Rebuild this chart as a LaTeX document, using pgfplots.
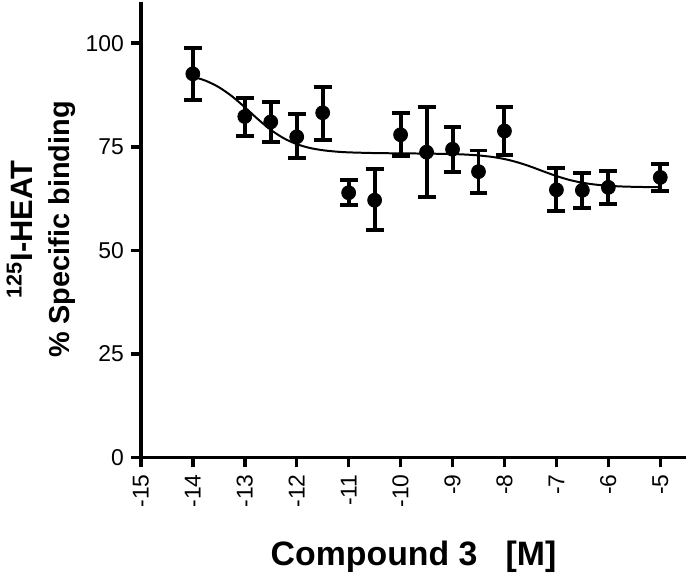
\documentclass[border=0pt]{standalone}
\usepackage{fontspec}
\setmainfont{Liberation Sans}
\usepackage{pgfplots}
\usepackage{pgfplotstable}
\pgfplotsset{compat=1.18}

\pgfplotstableread{
x      y     ep    em
-14    92.6  6.3   6.2
-13    82.3  4.4   4.6
-12.5  81.0  4.8   4.8
-12    77.4  5.4   5.0
-11.5  83.2  6.2   6.5
-11    63.9  3.1   3.0
-10.5  62.1  7.5   7.3
-10    77.9  5.3   5.1
-9.5   73.7  10.9  10.8
-9     74.4  5.4   5.4
-8.5   69.0  5.1   5.2
-8     78.8  5.9   5.7
-7     64.6  5.2   5.1
-6.5   64.5  4.2   4.3
-6     65.2  3.9   4.1
-5     67.6  3.2   3.2
}\binding

\pgfplotstableread{
x       y
-14     91.93
-13.75  90.92
-13.5   89.38
-13.25  87.22
-13     84.55
-12.75  81.69
-12.5   79.09
-12.25  77.06
-12     75.64
-11.75  74.72
-11.5   74.17
-11.25  73.84
-11     73.65
-10.5   73.48
-10     73.41
-9.5    73.35
-9      73.24
-8.75   73.12
-8.5    72.91
-8.25   72.57
-8      72.04
-7.75   71.25
-7.5    70.23
-7.25   69.06
-7      67.94
-6.75   67.00
-6.5    66.32
-6.25   65.87
-6      65.59
-5.75   65.42
-5.5    65.33
-5.25   65.27
-5      65.24
}\fit

\begin{document}
\begin{tikzpicture}
\begin{axis}[
  scale only axis,
  width=274pt, height=229pt,
  xmin=-15, xmax=-4.5,
  ymin=0, ymax=110,
  axis x line=bottom, axis y line=left,
  axis line style={-, line width=1.75pt},
  xtick={-15,-14,...,-5},
  ytick={0,25,50,75,100},
  tick align=outside,
  major tick length=5pt,
  every tick/.style={black, line width=1.75pt},
  /pgf/number format/assume math mode=true,
  tick label style={font=\fontsize{11.5}{13}\selectfont},
  xticklabel style={rotate=90, anchor=east},
  xlabel={Compound 3\ \ \ [M]},
  xlabel style={font=\fontsize{17}{20}\selectfont\bfseries, yshift=-10pt},
  ylabel={{\fontsize{15.5}{19}\selectfont\textsuperscript{125}I-HEAT}\\{\fontsize{14.5}{19}\selectfont\% Specific binding}},
  ylabel style={font=\fontsize{14.5}{19}\selectfont\bfseries, align=center, yshift=-2pt},
  clip=false,
]
\addplot[black, line width=1pt, smooth] table[x=x, y=y] {\fit};
\addplot[black, only marks, mark=*, mark size=3.5pt,
  error bars/.cd, y dir=both, y explicit,
  error bar style={line width=2pt},
  error mark options={rotate=90, line width=2pt, mark size=4.5pt}]
  table[x=x, y=y, y error plus=ep, y error minus=em] {\binding};
\end{axis}
\end{tikzpicture}
\end{document}
